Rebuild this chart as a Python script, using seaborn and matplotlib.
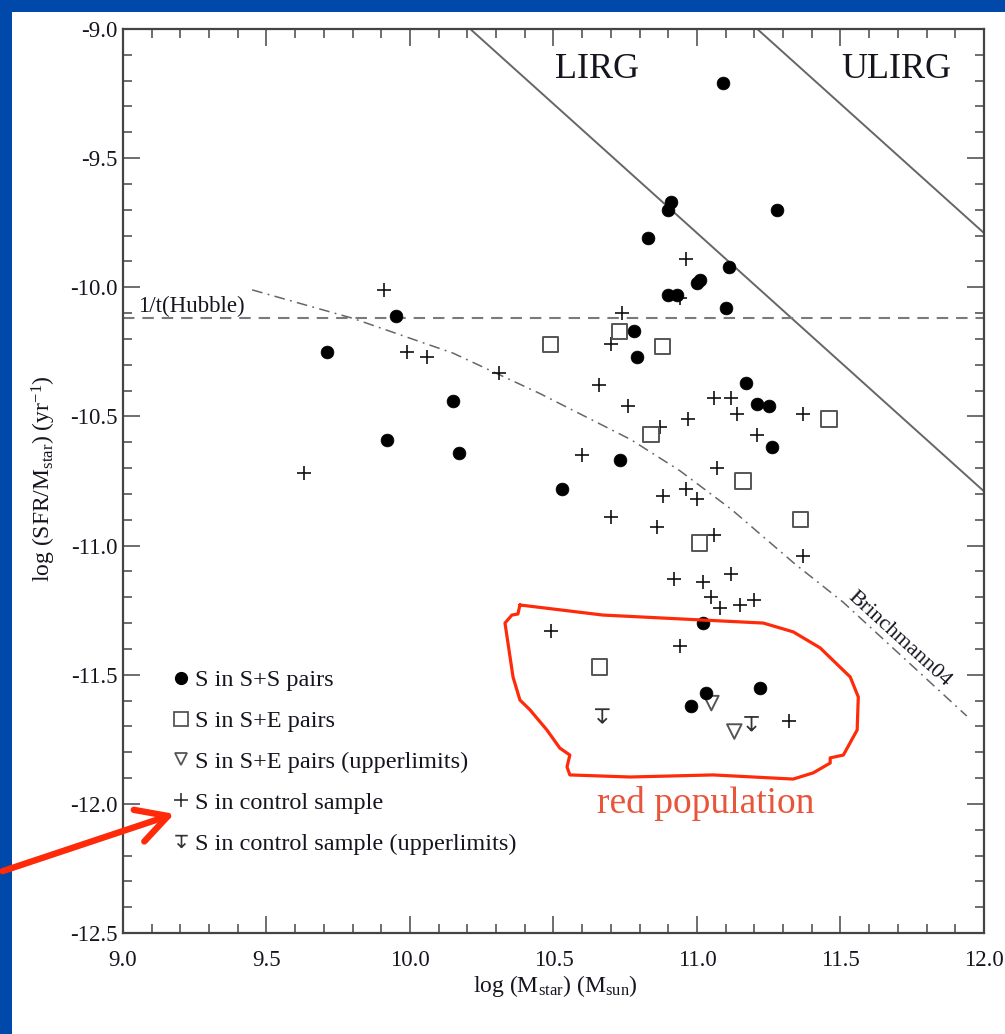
import numpy as np
import seaborn as sns
import matplotlib
matplotlib.use("Agg")
import matplotlib.pyplot as plt
from matplotlib.path import Path
from matplotlib.lines import Line2D
from matplotlib.patches import Rectangle, FancyArrowPatch
from matplotlib.ticker import MultipleLocator

# ---------------------------------------------------------------- data
# S in S+S pairs (filled circles)
ss_mass = [11.09, 10.91, 10.90, 11.28, 10.83, 11.11, 11.01, 11.00, 10.90, 10.93,
           11.10, 9.95, 10.78, 9.71, 10.79, 11.17, 10.15, 11.21, 11.25, 9.92,
           11.26, 10.17, 10.73, 10.53, 11.02, 11.22, 11.03, 10.98]
ss_ssfr = [-9.21, -9.67, -9.70, -9.70, -9.81, -9.92, -9.97, -9.985, -10.03, -10.03,
           -10.08, -10.11, -10.17, -10.25, -10.27, -10.37, -10.44, -10.45, -10.46, -10.59,
           -10.62, -10.64, -10.67, -10.78, -11.30, -11.55, -11.57, -11.62]

# S in S+E pairs (open squares)
se_mass = [10.49, 10.73, 10.88, 10.84, 11.46, 11.16, 11.36, 11.01, 10.66]
se_ssfr = [-10.22, -10.17, -10.23, -10.57, -10.51, -10.75, -10.90, -10.99, -11.47]

# S in S+E pairs, upper limits (open down triangles)
se_ul_mass = [11.05, 11.13]
se_ul_ssfr = [-11.61, -11.72]

# S in control sample (plus signs)
ctl_mass = [9.91, 9.99, 10.06, 10.31, 9.63, 10.96, 10.94, 10.74, 10.70, 10.66,
            10.76, 11.06, 11.12, 11.14, 11.37, 10.97, 10.87, 11.21, 10.60, 11.07,
            10.96, 11.00, 10.88, 10.70, 10.86, 11.06, 11.37, 10.92, 11.02, 11.12,
            11.05, 11.08, 11.15, 11.20, 10.49, 10.94, 11.32]
ctl_ssfr = [-10.01, -10.25, -10.27, -10.33, -10.72, -9.89, -10.04, -10.10, -10.22, -10.38,
            -10.46, -10.43, -10.43, -10.49, -10.49, -10.51, -10.54, -10.57, -10.65, -10.70,
            -10.78, -10.82, -10.81, -10.89, -10.93, -10.96, -11.04, -11.13, -11.14, -11.11,
            -11.20, -11.24, -11.23, -11.21, -11.33, -11.39, -11.68]

# S in control sample, upper limits
ctl_ul_mass = [10.67, 11.19]
ctl_ul_ssfr = [-11.66, -11.69]

# reference relations
lirg_offset = 1.21        # log sSFR = offset - log M  (L_IR = 1e11 Lsun)
ulirg_offset = 2.21       # L_IR = 1e12 Lsun
hubble_ssfr = -10.12      # 1 / t_Hubble
brinch_mass = [9.45, 9.80, 10.15, 10.45, 10.77, 10.94, 11.12, 11.34, 11.51, 11.94]
brinch_ssfr = [-10.01, -10.12, -10.255, -10.41, -10.59, -10.71, -10.86, -11.07, -11.22, -11.66]

# hand-drawn outline around the red population
loop_mass = [10.383, 10.672, 11.231, 11.335, 11.429, 11.534, 11.562, 11.558, 11.510, 11.464,
             11.464, 11.405, 11.335, 11.056, 10.767, 10.557, 10.547, 10.557, 10.522, 10.477,
             10.418, 10.383, 10.359, 10.331, 10.355, 10.376, 10.383]
loop_ssfr = [-11.230, -11.269, -11.300, -11.334, -11.396, -11.509, -11.586, -11.714, -11.811, -11.822,
             -11.842, -11.880, -11.904, -11.888, -11.896, -11.888, -11.857, -11.811, -11.784, -11.714,
             -11.636, -11.598, -11.509, -11.300, -11.269, -11.265, -11.230]

legend_labels = ["S in S+S pairs", "S in S+E pairs", "S in S+E pairs (upperlimits)",
                 "S in control sample", "S in control sample (upperlimits)"]

x_ticks = [9.0, 9.5, 10.0, 10.5, 11.0, 11.5, 12.0]
y_ticks = [-12.5, -12.0, -11.5, -11.0, -10.5, -10.0, -9.5, -9.0]

# ---------------------------------------------------------------- style
sns.set_theme(style="white")
plt.rcParams['font.family'] = ['Liberation Serif', 'DejaVu Serif']
plt.rcParams['mathtext.fontset'] = 'custom'
plt.rcParams['mathtext.rm'] = 'Liberation Serif'
plt.rcParams['mathtext.it'] = 'Liberation Serif:italic'
plt.rcParams['axes.unicode_minus'] = False

BLUE = '#0048AA'
RED = '#FF2A0A'
TEXT = '#15151f'

W, H = 1005, 1034
fig = plt.figure(figsize=(W / 100, H / 100), dpi=100, facecolor=BLUE)
fig.add_artist(Rectangle((12 / W, 0), 1, 1 - 12 / H, transform=fig.transFigure,
                         facecolor='white', edgecolor='none', zorder=-1))

ax = fig.add_axes([123 / W, 1 - 933 / H, 861 / W, 904 / H])
ax.set_facecolor('white')

# upper-limit glyph for control sample: bar, stem and down arrowhead
ul_path = Path(
    [(-0.8, 0.75), (0.8, 0.75), (0, 0.75), (0, -0.75), (-0.5, -0.25), (0, -0.75), (0.5, -0.25)],
    [Path.MOVETO, Path.LINETO, Path.MOVETO, Path.LINETO, Path.MOVETO, Path.LINETO, Path.LINETO])

# ---------------------------------------------------------------- lines
xx = np.array([9.0, 12.0])
sns.lineplot(x=xx, y=lirg_offset - xx, ax=ax, color='#666666', lw=1.4, zorder=2)
sns.lineplot(x=xx, y=ulirg_offset - xx, ax=ax, color='#666666', lw=1.4, zorder=2)
ax.axhline(hubble_ssfr, color='#7a7a7a', lw=1.5, ls=(0, (5.5, 3.8)), zorder=2)
sns.lineplot(x=brinch_mass, y=brinch_ssfr, ax=ax, sort=False, color='#666666',
             lw=1.1, ls=(0, (7, 3.5, 1.2, 3.5)), zorder=2)

# ---------------------------------------------------------------- points
sns.scatterplot(x=ctl_mass, y=ctl_ssfr, ax=ax, marker='+', s=95, color='#111111',
                linewidth=1.2, legend=False, zorder=4)
sns.scatterplot(x=se_mass, y=se_ssfr, ax=ax, marker='s', s=120, facecolors='none',
                edgecolor='#555555', linewidth=1.4, legend=False, zorder=4)
sns.scatterplot(x=se_ul_mass, y=se_ul_ssfr, ax=ax, marker='v', s=110, facecolors='none',
                edgecolor='#555555', linewidth=1.4, legend=False, zorder=4)
sns.scatterplot(x=ctl_ul_mass, y=ctl_ul_ssfr, ax=ax, marker=ul_path, s=110,
                facecolors='none', edgecolor='#333333', linewidth=1.3, legend=False, zorder=4)
sns.scatterplot(x=ss_mass, y=ss_ssfr, ax=ax, marker='o', s=85, color='black',
                edgecolor='black', linewidth=0.5, legend=False, zorder=5)

# ---------------------------------------------------------------- axes
ax.set_xlim(9.0, 12.0)
ax.set_ylim(-12.5, -9.0)
ax.set_xticks(x_ticks)
ax.set_yticks(y_ticks)
ax.set_xticklabels([f"{v:.1f}" for v in x_ticks])
ax.set_yticklabels([f"{v:.1f}" for v in y_ticks])
ax.xaxis.set_minor_locator(MultipleLocator(0.1))
ax.yaxis.set_minor_locator(MultipleLocator(0.1))
ax.tick_params(which='both', direction='in', top=True, right=True, bottom=True, left=True,
               color='#555555', width=1.2)
ax.tick_params(which='major', length=12.5)
ax.tick_params(which='minor', length=6.5)
ax.tick_params(axis='x', which='major', pad=12, labelsize=16.5, labelcolor=TEXT)
ax.tick_params(axis='y', which='major', pad=4, labelsize=16.5, labelcolor=TEXT)
for sp in ax.spines.values():
    sp.set_color('#444444')
    sp.set_linewidth(1.6)

ax.set_xlabel(r'log (M$_{\rm star}$) (M$_{\rm sun}$)', fontsize=17, color=TEXT)
ax.set_ylabel(r'log (SFR/M$_{\rm star}$) (yr$^{-1}$)', fontsize=17, color=TEXT)
ax.xaxis.set_label_coords(0.502, -0.044)
ax.yaxis.set_label_coords(-0.076, 0.503)

# ---------------------------------------------------------------- labels
ax.text(10.652, -9.155, 'LIRG', fontsize=26, ha='center', va='center', color=TEXT)
ax.text(11.695, -9.155, 'ULIRG', fontsize=26, ha='center', va='center', color=TEXT)
ax.text(9.051, -10.096, '1/t(Hubble)', fontsize=16.5, ha='left', va='baseline', color=TEXT)
ax.text(11.705, -11.361, 'Brinchmann04', fontsize=16, ha='center', va='center',
        rotation=-42.3, rotation_mode='anchor', color=TEXT)

# ---------------------------------------------------------------- legend
handles = [
    Line2D([], [], ls='none', marker='o', color='black', ms=8.5),
    Line2D([], [], ls='none', marker='s', mfc='none', mec='#555555', mew=1.3, ms=9.5),
    Line2D([], [], ls='none', marker='v', mfc='none', mec='#555555', mew=1.3, ms=9),
    Line2D([], [], ls='none', marker='+', color='#222222', mew=1.1, ms=9.5),
    Line2D([], [], ls='none', marker=ul_path, mfc='none', mec='#333333', mew=1.2, ms=9),
]
leg = ax.legend(handles, legend_labels, loc='upper left', bbox_to_anchor=(0.058, 0.292),
                frameon=False, fontsize=17.5, handlelength=0.65, handletextpad=0.25,
                labelspacing=0.78, borderaxespad=0, borderpad=0)
for t in leg.get_texts():
    t.set_color(TEXT)

# ---------------------------------------------------------------- annotation
ax.plot(loop_mass, loop_ssfr, color=RED, lw=2.3, solid_joinstyle='round',
        solid_capstyle='round', zorder=6, clip_on=False)
ax.text(11.032, -11.997, 'red population', fontsize=27, ha='center', va='center',
        color='#E8553A')

arrow = FancyArrowPatch((0.0, 1 - 872 / H), (177 / W, 1 - 813 / H),
                        transform=fig.transFigure,
                        arrowstyle='->,head_length=1.1,head_width=0.6',
                        mutation_scale=20, color=RED, lw=4.6, capstyle='round',
                        joinstyle='round', zorder=10)
fig.add_artist(arrow)

fig.savefig('out.png', dpi=100, facecolor=BLUE)
